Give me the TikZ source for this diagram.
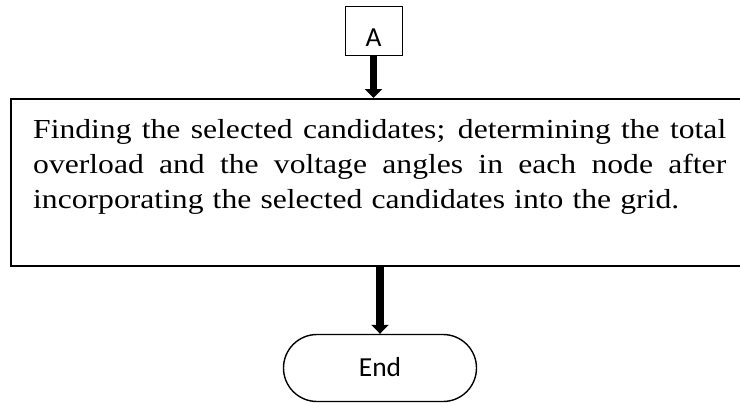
\documentclass[tikz,border=0pt]{standalone}
\usepackage{fontspec}
\setmainfont{Liberation Serif}[FakeStretch=1.15]
\newfontfamily\labelfont{Carlito}
\usetikzlibrary{arrows.meta,shapes.misc}
% a line set flush to both margins of the process text
\newcommand\fullline[1]{\leavevmode\hbox to 693pt{\spaceskip=0.2em plus 1fil\relax #1}}
\begin{document}
\begin{tikzpicture}[x=1pt,y=-1pt,
  connbox/.style={draw,line width=1pt,minimum width=57pt,minimum height=49pt,inner sep=0pt,
    text height=31pt,text depth=0pt,font=\labelfont\fontsize{27.5}{30}\selectfont},
  procbox/.style={draw,line width=2pt,minimum width=735pt,minimum height=167pt,inner sep=0pt},
  termbox/.style={draw,line width=1.4pt,rounded rectangle,minimum width=193pt,minimum height=67pt,inner sep=0pt,
    text height=17.5pt,text depth=0pt,font=\labelfont\fontsize{27.5}{30}\selectfont},
  flow/.style={line width=7.3pt,-{Triangle[length=9pt,width=17pt]}}]
  \useasboundingbox (0,0) rectangle (740,405);
  % off-page connector
  \node[connbox] (A) at (373.5,30.5) {A};
  % process box (right side runs past the page edge)
  \node[procbox,anchor=north west] (proc) at (10,98) {};
  \node[anchor=north west,inner sep=0pt,text width=693pt,align=left,
        font=\fontsize{27.5}{35}\selectfont] (proctext) at (33,119.3)
    {\fullline{Finding the selected candidates; determining the total}\\
     \fullline{overload and the voltage angles in each node after}\\
     incorporating the selected candidates into the grid.};
  % terminator
  \node[termbox] (end) at (380,368) {End};
  \draw[flow] (A.south) -- (A.south |- proc.north);
  \draw[flow] (end.north |- proc.south) -- (end.north);
\end{tikzpicture}
\end{document}
